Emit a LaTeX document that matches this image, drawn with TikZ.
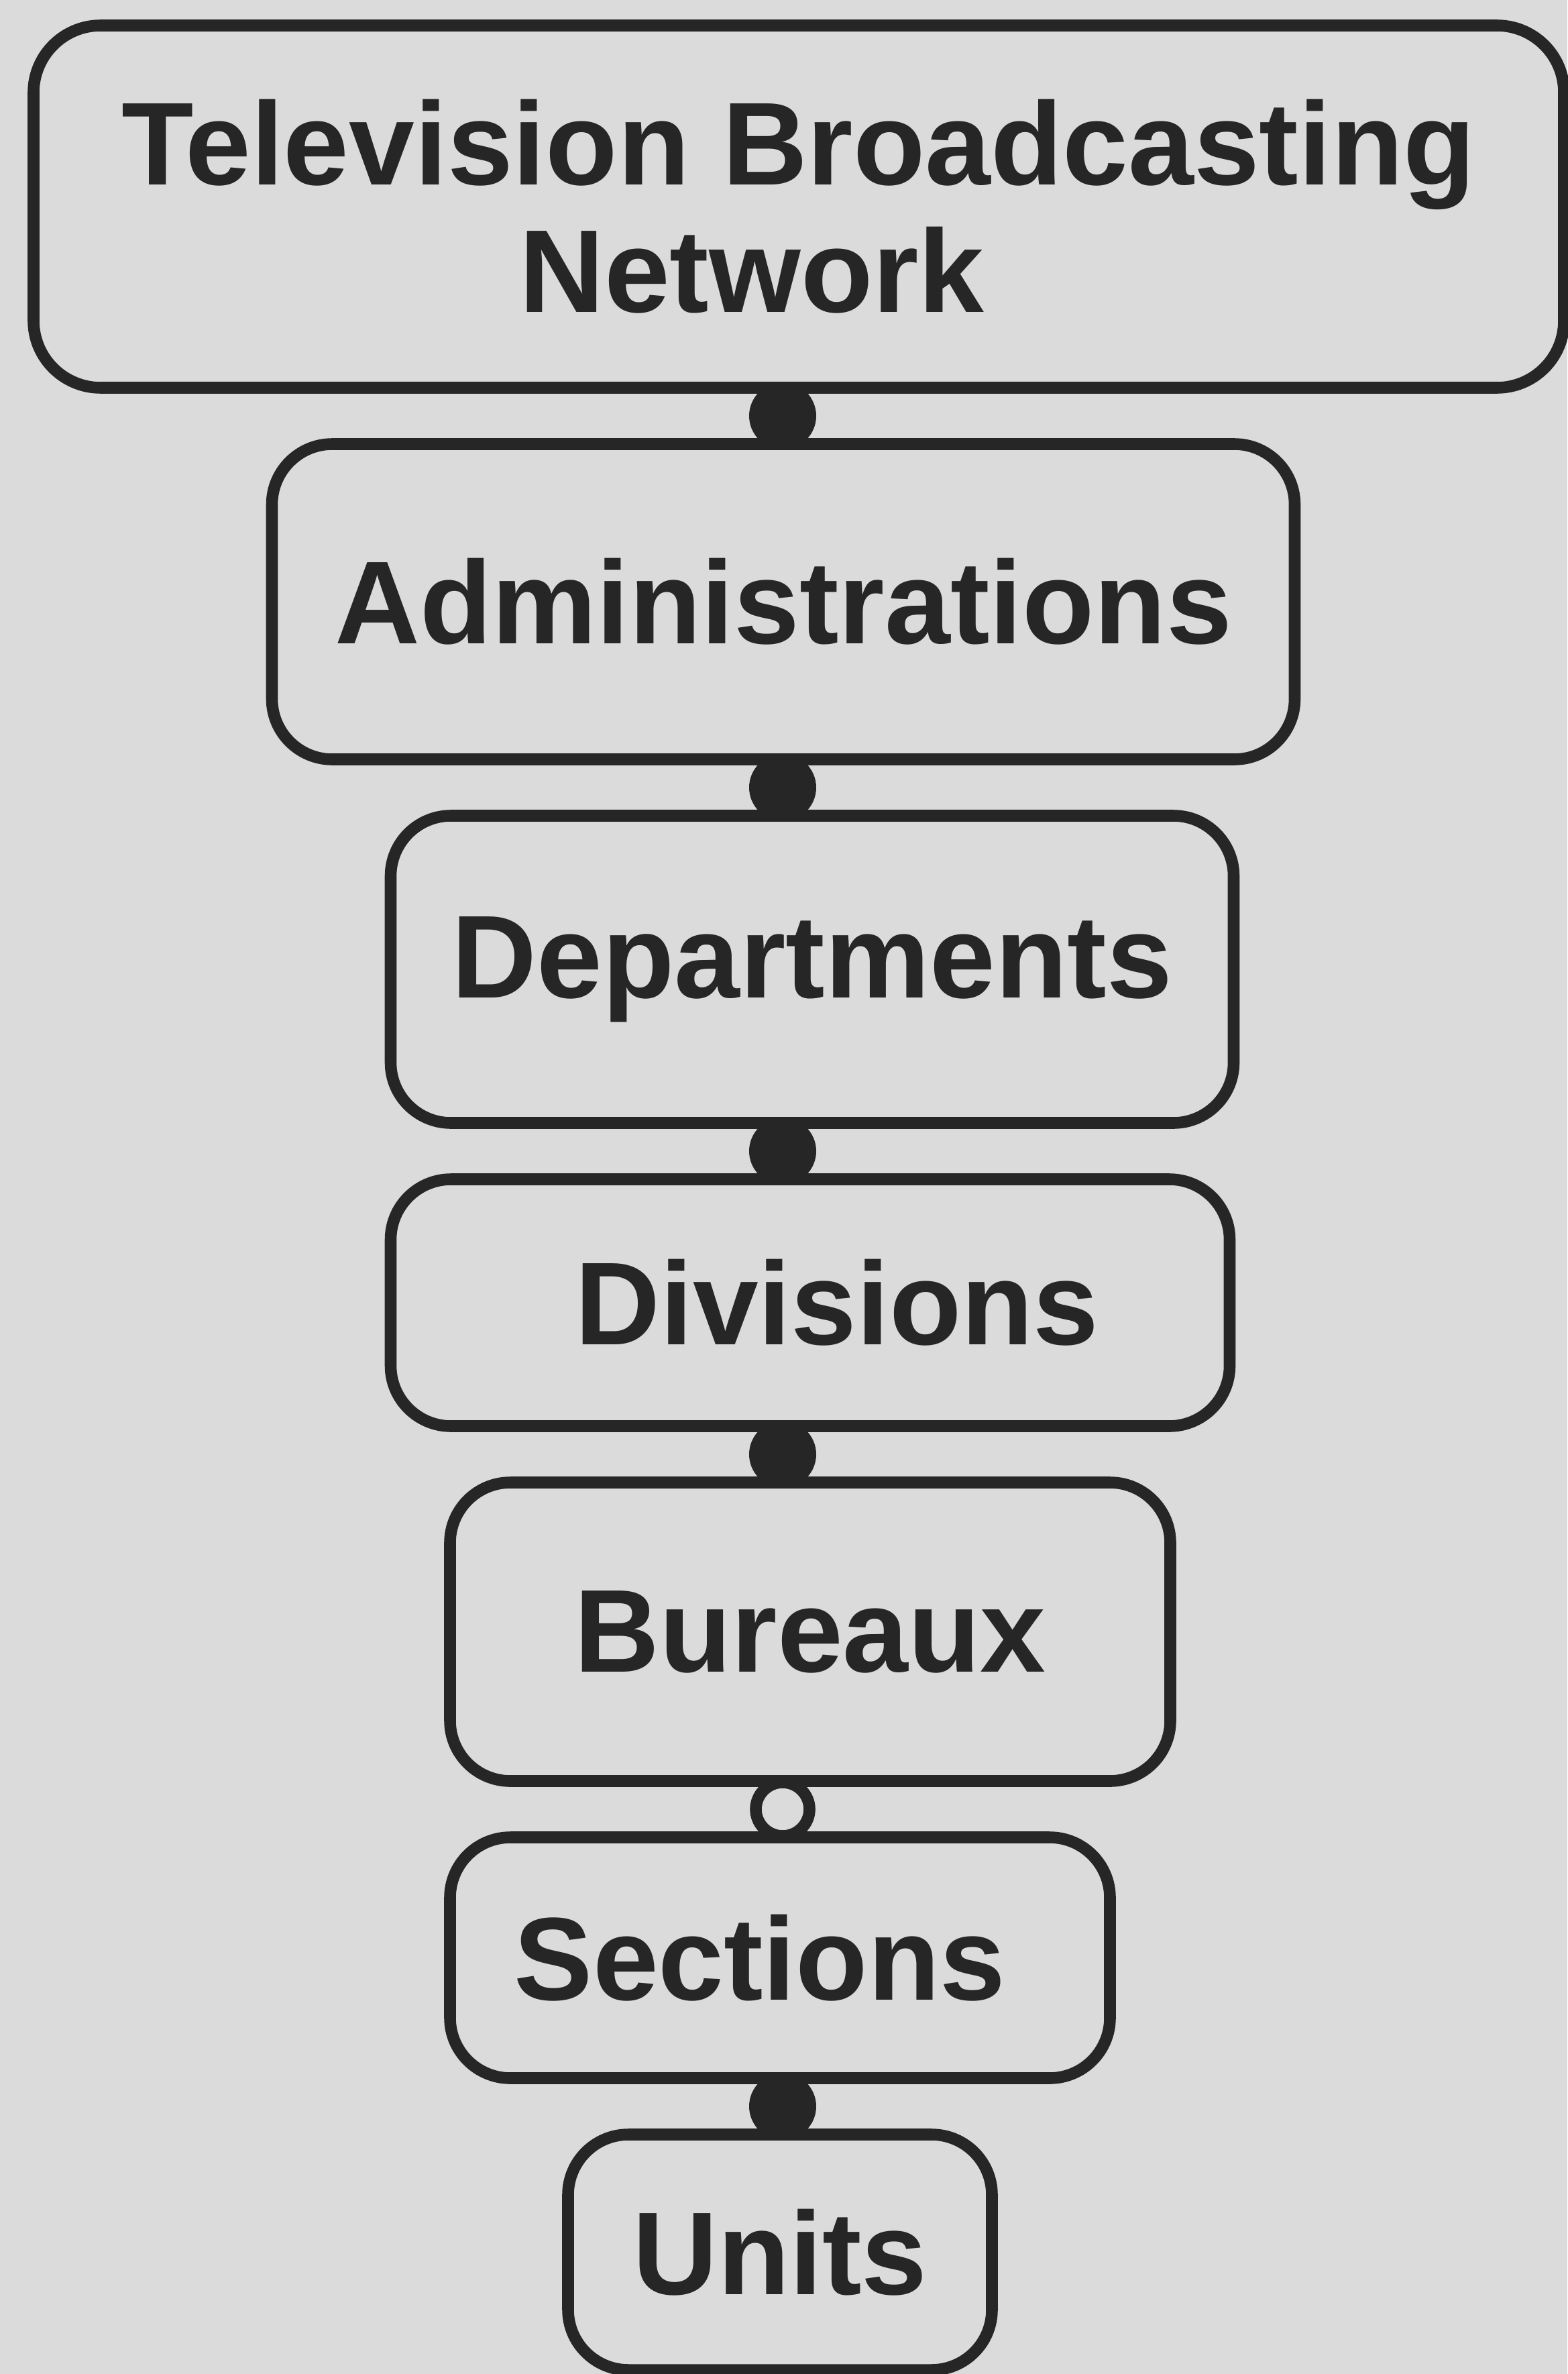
\documentclass[tikz,border=0pt]{standalone}
\usepackage{fontspec}
\setmainfont{Liberation Sans}
\usetikzlibrary{positioning,backgrounds}
\definecolor{paper}{gray}{0.86}
\definecolor{ink}{gray}{0.15}
\begin{document}
\begin{tikzpicture}[node distance=0.84cm,
  every path/.style={line width=5pt},
  tierbox/.style={draw=ink, fill=paper, rectangle, rounded corners=0.9cm,
    inner sep=0pt, outer sep=0pt, align=center, text=ink,
    font={\bfseries\fontsize{50}{54}\selectfont}},
  dot/.style={circle, fill=ink, inner sep=0pt, minimum size=1cm},
  ring/.style={circle, draw=ink, fill=paper, inner sep=0pt, minimum size=0.8cm}]
\useasboundingbox (0,0) rectangle (23.37,-35.39);
\coordinate (axis) at (11.67,0);
\node[tierbox, minimum width=22.82cm, minimum height=5.40cm, rounded corners=1cm] (network) at (11.91,-3.08) {Television Broadcasting\\Network\hspace*{1.4cm}};
\node[tierbox, minimum width=15.25cm, minimum height=4.70cm, below=of network, xshift=-0.23cm] (admin) {Administrations};
\node[tierbox, minimum width=12.57cm, minimum height=4.58cm, below=of admin, xshift=0.43cm] (dept) {Departments};
\node[tierbox, minimum width=12.51cm, minimum height=3.68cm, below=of dept, xshift=-0.03cm] (div) {\hspace*{0.8cm}Divisions};
\node[tierbox, minimum width=10.74cm, minimum height=4.45cm, below=of div] (bureau) {Bureaux};
\node[tierbox, minimum width=9.84cm, minimum height=3.59cm, below=of bureau, xshift=-0.45cm] (section) {Sections\hspace*{0.6cm}};
\node[tierbox, minimum width=6.32cm, minimum height=3.51cm, below=of section] (unit) {Units};
% page and the links between the tiers
\begin{scope}[on background layer]
\fill[paper] (0,0) rectangle (23.37,-35.39);
\foreach \upper/\lower/\knot in {network/admin/dot, admin/dept/dot, dept/div/dot,
    div/bureau/dot, bureau/section/ring, section/unit/dot}
  \path (\upper.south -| axis) -- node[\knot] {} (\lower.north -| axis);
\end{scope}
\end{tikzpicture}
\end{document}
